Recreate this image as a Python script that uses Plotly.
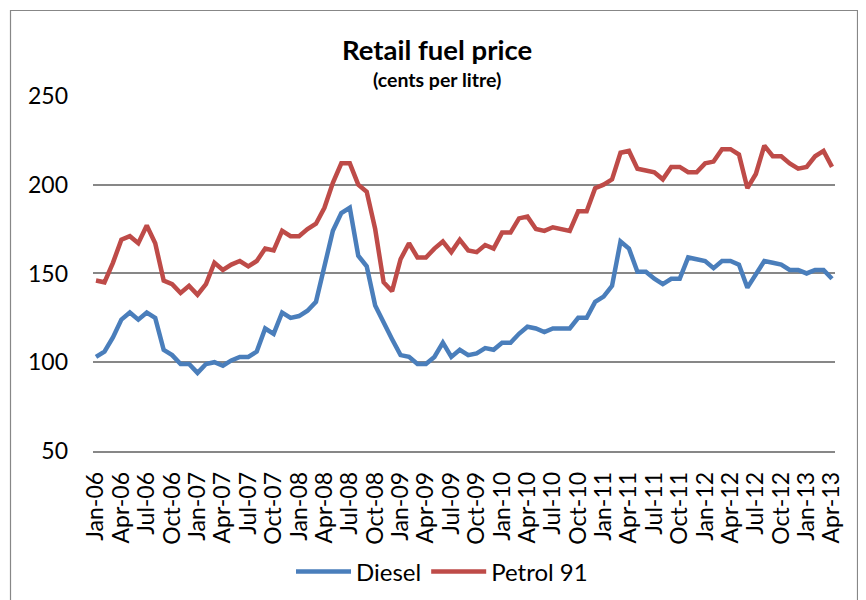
import pandas as pd
import plotly.graph_objects as go

months = pd.date_range("2006-01-01", "2013-04-01", freq="MS").strftime("%b-%y").tolist()

diesel = [103, 106, 114, 124, 128, 124, 128, 125, 107, 104, 99, 99,
          94, 99, 100, 98, 101, 103, 103, 106, 119, 116, 128, 125,
          126, 129, 134, 154, 174, 184, 187, 160, 154, 132, 122, 113,
          104, 103, 99, 99, 103, 111, 103, 107, 104, 105, 108, 107,
          111, 111, 116, 120, 119, 117, 119, 119, 119, 125, 125, 134,
          137, 143, 168, 164, 151, 151, 147, 144, 147, 147, 159, 158,
          157, 153, 157, 157, 155, 142, 149, 157, 156, 155, 152, 152,
          150, 152, 152, 147]

petrol91 = [146, 145, 156, 169, 171, 167, 177, 167, 146, 144, 139, 143,
            138, 144, 156, 152, 155, 157, 154, 157, 164, 163, 174, 171,
            171, 175, 178, 187, 201, 212, 212, 200, 196, 175, 145, 140,
            158, 167, 159, 159, 164, 168, 162, 169, 163, 162, 166, 164,
            173, 173, 181, 182, 175, 174, 176, 175, 174, 185, 185, 198,
            200, 203, 218, 219, 209, 208, 207, 203, 210, 210, 207, 207,
            212, 213, 220, 220, 217, 198, 206, 222, 216, 216, 212, 209,
            210, 216, 219, 210]

tick_labels = months[::3]
y_ticks = [50, 100, 150, 200, 250]

FONT = "Lato, 'Liberation Sans', sans-serif"
GRID = "#878787"

fig = go.Figure()
fig.add_trace(go.Scatter(x=months, y=diesel, name="Diesel", mode="lines",
                         line=dict(color="#4A7EBB", width=4.5)))
fig.add_trace(go.Scatter(x=months, y=petrol91, name="Petrol 91", mode="lines",
                         line=dict(color="#BE4B48", width=4.5)))

# page body has an 8px margin; work in window pixel coordinates
O = 8
W, H = 866 - O, 600 - O
L, R, T, B = 93 - O, 31, 95 - O, 149
pw, ph = W - L - R, H - T - B

def px_x(p):
    return (p - O - L) / pw

def px_y(p):
    return (H - B - (p - O)) / ph

fig.update_layout(
    width=W, height=H,
    margin=dict(l=L, r=R, t=T, b=B, pad=0, autoexpand=False),
    paper_bgcolor="white", plot_bgcolor="white",
    font=dict(family=FONT, color="black", size=23),
    showlegend=True,
    legend=dict(orientation="h", x=px_x(442), y=px_y(572), xanchor="center", yanchor="middle",
                font=dict(size=24, family=FONT), itemwidth=55, bgcolor="rgba(0,0,0,0)"),
    xaxis=dict(type="category", range=[-0.355, len(months) - 1 + 0.355],
               tickmode="array", tickvals=tick_labels, ticktext=tick_labels,
               tickangle=-90, ticks="", showgrid=False, zeroline=False,
               showline=True, linecolor=GRID, linewidth=1.5, automargin=False,
               tickfont=dict(size=23, family=FONT), ticklabelstandoff=10),
    yaxis=dict(range=[50, 250.5], tickmode="array", tickvals=y_ticks,
               showgrid=True, gridcolor=GRID, gridwidth=1.5, zeroline=False,
               showline=False, ticks="", tickfont=dict(size=23, family=FONT),
               ticklabelstandoff=24, automargin=False),
    annotations=[
        dict(text="<b>Retail fuel price</b>", xref="paper", yref="paper",
             x=px_x(437), y=px_y(49), xanchor="center", yanchor="middle",
             showarrow=False, font=dict(size=27.5, family=FONT)),
        dict(text="<b>(cents per litre)</b>", xref="paper", yref="paper",
             x=px_x(437), y=px_y(80), xanchor="center", yanchor="middle",
             showarrow=False, font=dict(size=19.5, family=FONT)),
    ],
    shapes=[
        dict(type="rect", xref="paper", yref="paper",
             x0=px_x(10.5), x1=px_x(857.5), y0=px_y(620), y1=px_y(10.5),
             line=dict(color=GRID, width=1.2), fillcolor="rgba(0,0,0,0)", layer="below"),
    ],
)

fig.write_html("out.html")
